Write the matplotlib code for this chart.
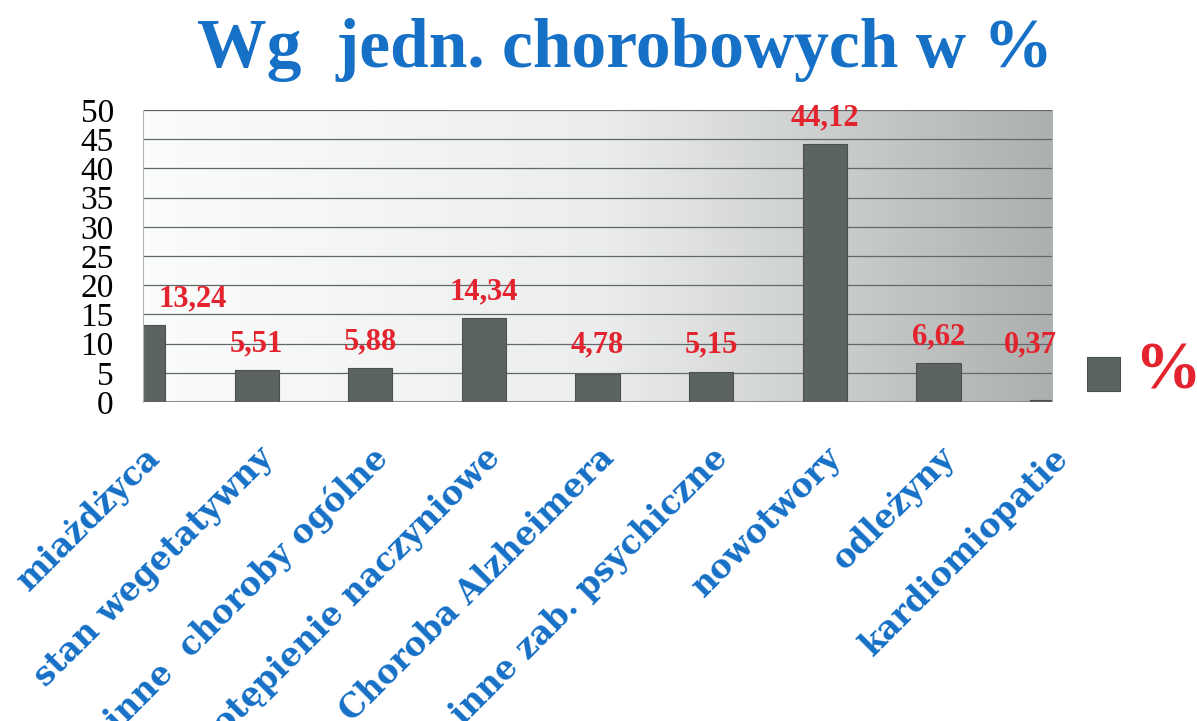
import numpy as np
from matplotlib import pyplot as plt
from matplotlib.colors import LinearSegmentedColormap
from matplotlib.patches import Rectangle

categories = ['miażdżyca', 'stan wegetatywny', 'inne  choroby ogólne',
              'otępienie naczyniowe', 'Choroba Alzheimera', 'inne zab. psychiczne',
              'nowotwory', 'odleżyny', 'kardiomiopatie']
values = [13.24, 5.51, 5.88, 14.34, 4.78, 5.15, 44.12, 6.62, 0.37]
value_labels = ['13,24', '5,51', '5,88', '14,34', '4,78', '5,15', '44,12', '6,62', '0,37']
yticks = [0, 5, 10, 15, 20, 25, 30, 35, 40, 45, 50]

BLUE = '#1670c6'
RED = '#e3232d'
BAR = '#5c6461'

fig = plt.figure(figsize=(11.97, 7.21), dpi=100)
ax = fig.add_axes([0.1195, 0.4424, 0.7594, 0.405])

x = np.arange(len(values))
ax.set_xlim(0, len(values) - 1)
ax.set_ylim(0, 50)

# background gradient, white on the left to grey on the right
cmap = LinearSegmentedColormap.from_list('bg', ['#fbfcfc', '#eceeee', '#acb0af'])
grad = np.linspace(0, 1, 256).reshape(1, -1)
ax.imshow(grad, extent=[0, len(values) - 1, 0, 50], aspect='auto', cmap=cmap,
          zorder=0, interpolation='bicubic')

for y in yticks[1:]:
    ax.axhline(y, color='#62676a', lw=0.9, zorder=1)
ax.axhline(0, color='#8a8e8e', lw=1.5, zorder=1)

ax.bar(x, values, width=0.39, color=BAR, edgecolor='#4a504e', lw=0.8, zorder=2)

for i, (v, lab) in enumerate(zip(values, value_labels)):
    dx = 0
    if i == 0:
        dx = 50
    elif i == len(values) - 1:
        dx = -22
    ax.annotate(lab, (i, max(v, 5.3) + 4.5), xytext=(dx * 0.72, 0),
                textcoords='offset points', ha='center', va='center',
                fontsize=22, fontweight='bold', color=RED,
                family='Liberation Serif', zorder=3)

for s in ax.spines.values():
    s.set_visible(False)
ax.spines['left'].set_visible(True)
ax.spines['left'].set_color('#b0b8c0')

ax.set_yticks(yticks)
ax.set_yticklabels([str(t) for t in yticks], fontsize=24,
                   family='Liberation Serif')
ax.tick_params(axis='y', length=0, pad=21)

ax.set_xticks(x)
ax.set_xticklabels(categories, rotation=45, ha='right', va='top',
                   rotation_mode='anchor', fontsize=23.5, fontweight='bold',
                   color=BLUE, family='DejaVu Serif')
ax.tick_params(axis='x', length=0, pad=28)

fig.text(0.522, 0.93, 'Wg  jedn. chorobowych w %', ha='center', va='center',
         fontsize=50, fontweight='bold', color=BLUE, family='Liberation Serif')

# legend
fig.patches.append(Rectangle((1087 / 1197, 1 - 391 / 721), 33 / 1197, 34 / 721,
                             transform=fig.transFigure, facecolor=BAR,
                             edgecolor='#4a504e', lw=0.8))
fig.text(1167 / 1197, 1 - 372 / 721, '%', ha='center', va='center', fontsize=48,
         fontweight='bold', color=RED, family='Liberation Serif')

plt.savefig('out.png', dpi=100)
